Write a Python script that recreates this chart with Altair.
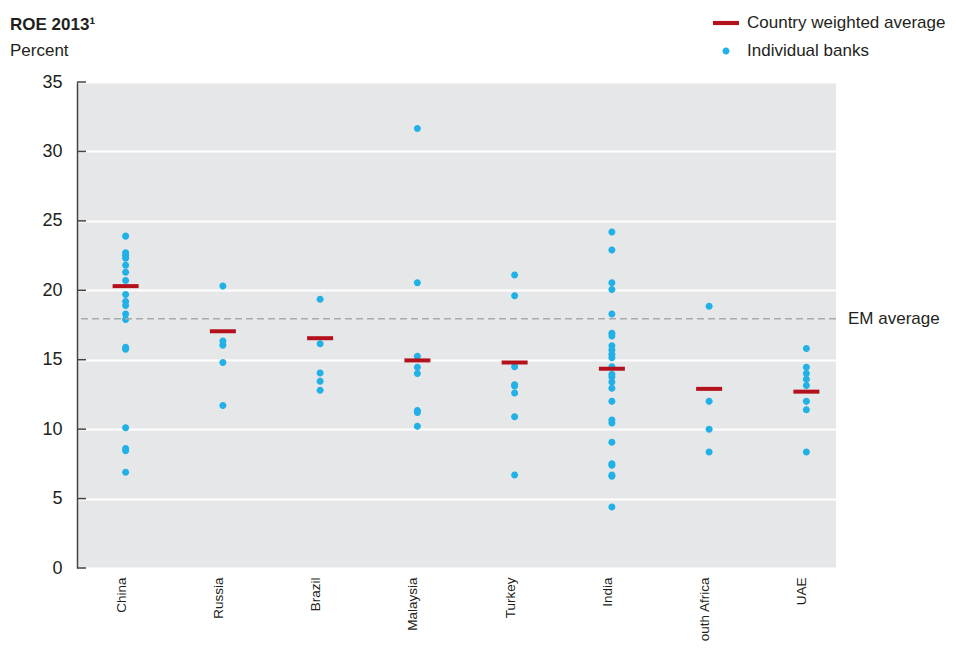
import altair as alt
import pandas as pd

countries = ["China", "Russia", "Brazil", "Malaysia", "Turkey", "India", "South Africa", "UAE"]

china = [23.9, 22.7, 22.5, 22.3, 21.8, 21.3, 20.7, 19.7, 19.2, 18.9, 18.3, 17.9, 15.9, 15.75, 10.1, 8.6, 8.45, 6.9]
russia = [20.3, 16.35, 16.05, 14.8, 11.7]
brazil = [19.35, 16.15, 14.05, 13.45, 12.8]
malaysia = [31.65, 20.55, 15.25, 14.45, 14.0, 11.35, 11.2, 10.2]
turkey = [21.1, 19.6, 14.5, 13.2, 13.1, 12.6, 10.9, 6.7]
india = [24.2, 22.9, 20.55, 20.05, 18.3, 16.9, 16.7, 16.0, 15.7, 15.4, 15.15, 14.5, 13.95,
         13.75, 13.4, 12.95, 12.0, 10.65, 10.45, 9.05, 7.5, 7.4, 6.7, 6.6, 4.4]
south_africa = [18.85, 12.0, 10.0, 8.35]
uae = [15.8, 14.45, 14.0, 13.6, 13.15, 12.0, 11.4, 8.35]

weighted_avg = [20.3, 17.05, 16.55, 14.95, 14.8, 14.35, 12.9, 12.7]
em_average = 17.95
y_ticks = [0, 5, 10, 15, 20, 25, 30, 35]

AVG = "Country weighted average"
BANKS = "Individual banks"
RED = "#b3121d"
BLUE = "#21b1e6"
FONT = "Liberation Sans"
TEXT = "#231f20"

bank_lists = [china, russia, brazil, malaysia, turkey, india, south_africa, uae]
rows = []
for c, vals in zip(countries, bank_lists):
    for v in vals:
        rows.append({"country": c, "roe": v, "series": BANKS})
banks_df = pd.DataFrame(rows)
avg_df = pd.DataFrame({"country": countries, "roe": weighted_avg, "series": [AVG] * len(countries)})
em_df = pd.DataFrame({"roe": [em_average], "label": ["EM average"]})
ticks_df = pd.DataFrame({"roe": y_ticks})

x_scale = alt.Scale(domain=countries, range=[0, 778], paddingInner=0, paddingOuter=0)
y_scale = alt.Scale(domain=[0, 35], nice=False, zero=True)

bar_path = "M-1,-0.16H1V0.16H-1Z"
circ_path = "M-0.27,0A0.27,0.27,0,1,0,0.27,0A0.27,0.27,0,1,0,-0.27,0Z"

legend = alt.Legend(
    title=None, orient="none", legendX=636, legendY=-72, padding=0,
    labelFont=FONT, labelFontSize=17, labelColor=TEXT, labelOffset=8,
    symbolSize=676, symbolStrokeWidth=0, rowPadding=7, labelLimit=400,
)
color = alt.Color("series:N", scale=alt.Scale(domain=[AVG, BANKS], range=[RED, BLUE]), legend=legend)
shape = alt.Shape("series:N", scale=alt.Scale(domain=[AVG, BANKS], range=[bar_path, circ_path]), legend=legend)

x_axis = alt.Axis(domain=False, ticks=False, labelAngle=270, labelAlign="right",
                  labelBaseline="alphabetic", labelPadding=9, labelFont=FONT,
                  labelFontSize=13.5, labelColor=TEXT, grid=False, labelLimit=200, title=None)

y_axis = alt.Axis(values=y_ticks, grid=True, gridColor="white", gridWidth=2, domain=True,
                  domainColor="#444444", domainWidth=1.5, ticks=False, tickSize=0,
                  labelPadding=15, labelFont=FONT, labelFontSize=18, labelColor=TEXT, title=None)


def yenc():
    return alt.Y("roe:Q", scale=y_scale, axis=y_axis, title=None)


def xenc():
    return alt.X("country:N", scale=x_scale, sort=countries, axis=x_axis, title=None)


em_rule = alt.Chart(em_df).mark_rule(color="#a7a9ac", strokeWidth=1.5, strokeDash=[7, 4]).encode(
    y=yenc()
)
points = alt.Chart(banks_df).mark_point(filled=True, size=676, opacity=1, strokeWidth=0).encode(
    x=xenc(), y=yenc(), color=color, shape=shape
)
bars = alt.Chart(avg_df).mark_tick(orient="horizontal", size=26, thickness=4, opacity=1).encode(
    x=xenc(), y=yenc(), color=color
)
tick_rules = alt.Chart(ticks_df).mark_rule(color="#444444", strokeWidth=1.5).encode(
    y=yenc(), x=alt.value(0), x2=alt.value(9)
)
em_text = alt.Chart(em_df).mark_text(align="left", baseline="middle", font=FONT, fontSize=17, color=TEXT).encode(
    y=yenc(), x=alt.value(771), text="label:N"
)
title_t = alt.Chart(pd.DataFrame({"t": ["ROE 2013\u00b9"]})).mark_text(
    align="left", baseline="alphabetic", font=FONT, fontSize=17, fontWeight="bold", color=TEXT
).encode(x=alt.value(-67), y=alt.value(-52), text="t:N")
sub_t = alt.Chart(pd.DataFrame({"t": ["Percent"]})).mark_text(
    align="left", baseline="alphabetic", font=FONT, fontSize=17, color=TEXT
).encode(x=alt.value(-67), y=alt.value(-26), text="t:N")

chart = alt.layer(points, em_rule, bars, tick_rules, em_text, title_t, sub_t).properties(
    width=759, height=486,
    autosize=alt.AutoSizeParams(type="none"),
    padding={"left": 69, "top": 74, "right": 113, "bottom": 73},
).configure_view(fill="#e6e7e8", stroke=None)

chart.save("out.html", embed_options={"renderer": "svg", "actions": False})
